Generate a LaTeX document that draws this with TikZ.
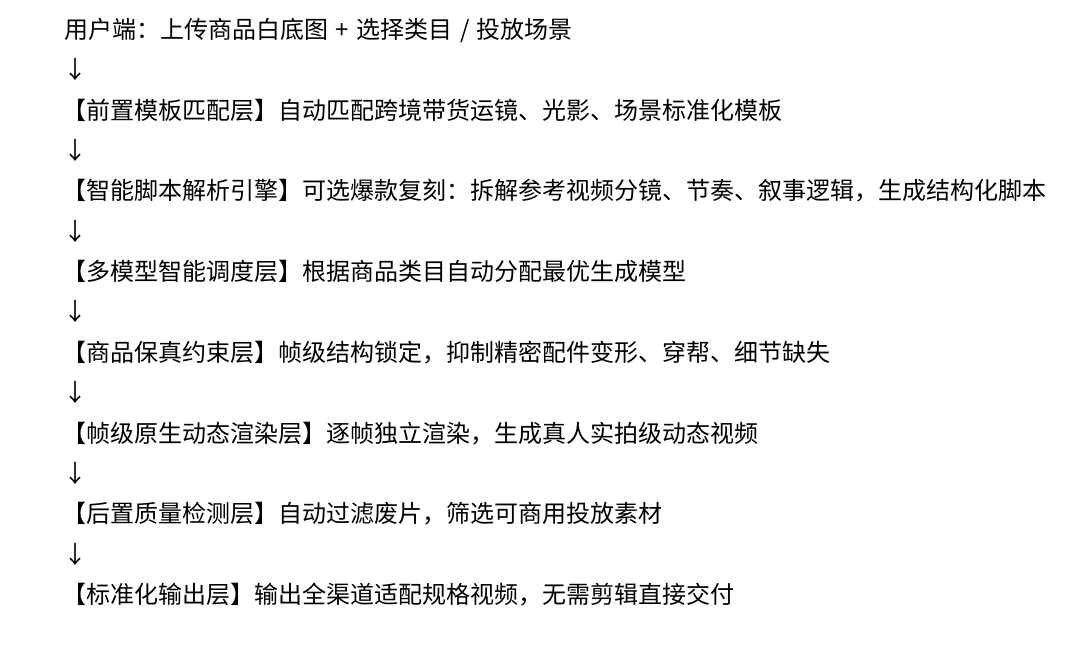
\documentclass[tikz,border=0pt]{standalone}
\usepackage{fontspec}
\setmainfont{Noto Sans CJK SC}
\usepackage{tikz}
\usetikzlibrary{positioning}

\newcommand{\gap}{\hspace{7.5pt}}

\begin{document}
\begin{tikzpicture}[x=1pt,y=-1pt,
    row/.style={anchor=base west,inner sep=0pt,font=\fontsize{24}{24}\selectfont},
    down/.style={row}]
  \useasboundingbox (0,0) rectangle (1073,657);

  \draw (64,38) node[row] (user) {用户端：上传商品白底图\gap{}+\gap{}选择类目\gap{}/\gap{}投放场景};
  \draw (63,78) node[down] (a1) {↓};
  \draw (62,119) node[row] (tpl) {【前置模板匹配层】自动匹配跨境带货运镜、光影、场景标准化模板};
  \draw (63,159) node[down] (a2) {↓};
  \draw (62,199) node[row] (script) {【智能脚本解析引擎】可选爆款复刻：拆解参考视频分镜、节奏、叙事逻辑，生成结构化脚本};
  \draw (63,240) node[down] (a3) {↓};
  \draw (62,280) node[row] (sched) {【多模型智能调度层】根据商品类目自动分配最优生成模型};
  \draw (63,320) node[down] (a4) {↓};
  \draw (62,361) node[row] (fid) {【商品保真约束层】帧级结构锁定，抑制精密配件变形、穿帮、细节缺失};
  \draw (63,401) node[down] (a5) {↓};
  \draw (62,442) node[row] (render) {【帧级原生动态渲染层】逐帧独立渲染，生成真人实拍级动态视频};
  \draw (63,482) node[down] (a6) {↓};
  \draw (62,522) node[row] (qc) {【后置质量检测层】自动过滤废片，筛选可商用投放素材};
  \draw (63,563) node[down] (a7) {↓};
  \draw (62,603) node[row] (out) {【标准化输出层】输出全渠道适配规格视频，无需剪辑直接交付};

\end{tikzpicture}
\end{document}
